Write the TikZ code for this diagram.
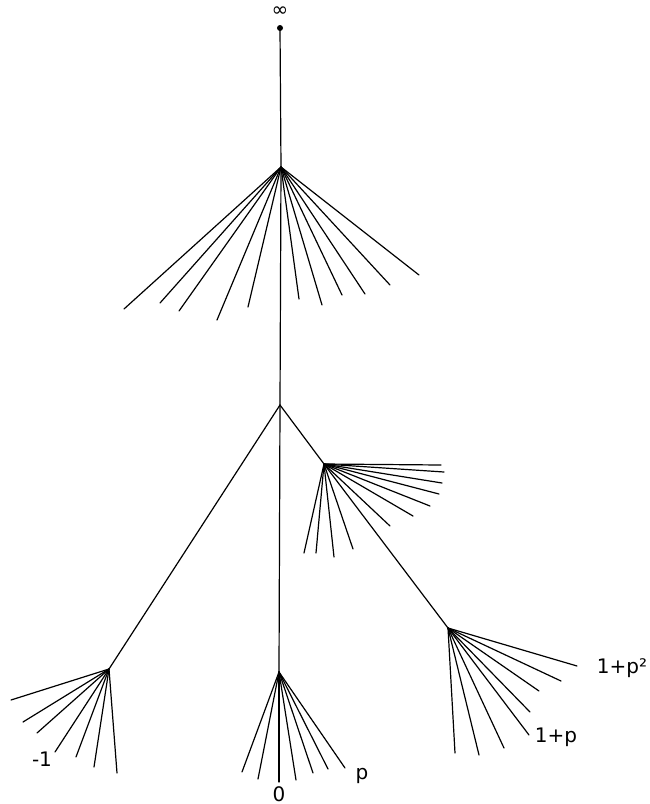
\documentclass[tikz,border=0pt]{standalone}
\usepackage{fontspec}
\setmainfont{DejaVu Sans}
\begin{document}
\begin{tikzpicture}[x=0.5pt, y=-0.5pt, line cap=round, line join=round, line width=0.6pt,
  vertex/.style={coordinate},
  lbl/.style={inner sep=0pt, font=\fontsize{10}{12}\selectfont}]
  \useasboundingbox (0,0) rectangle (649,804);

  % --- vertices of the tree ---
  \node[vertex] (inf)  at (280,28)  {};
  \node[vertex] (vtop) at (281,167) {};
  \node[vertex] (vmid) at (280,405) {};
  \node[vertex] (vsub) at (324,464) {};
  \node[vertex] (vl)   at (109,669) {};
  \node[vertex] (vc)   at (279,672) {};
  \node[vertex] (vr)   at (448,628) {};

  % --- edges ---
  \fill (inf) circle (1.5pt);
  \draw (inf) -- (vtop) -- (vmid);
  \draw (vmid) -- (vl);
  \draw (vmid) -- (vc);
  \draw (vmid) -- (vsub) -- (vr);

  % --- fans ---
  \foreach \x/\y [count=\i] in {124/309,160/303,179/311,217/320,248/307,299/299,
      322/305,342/295,365/294,390/285,419/275}
    {\coordinate (t\i) at (\x,\y); \draw (vtop) -- (t\i);}
  \foreach \x/\y [count=\i] in {441/465,444/472,442/483,439/494,430/506,413/516,
      390/526,353/549,334/557,316/553,304/553}
    {\coordinate (s\i) at (\x,\y); \draw (vsub) -- (s\i);}
  \foreach \x/\y [count=\i] in {11/700,23/722,37/733,55/752,76/757,94/767,117/773}
    {\coordinate (l\i) at (\x,\y); \draw (vl) -- (l\i);}
  \foreach \x/\y [count=\i] in {242/772,258/779,279/782,296/780,313/773,328/769,345/768}
    {\coordinate (c\i) at (\x,\y); \draw (vc) -- (c\i);}
  \foreach \x/\y [count=\i] in {577/666,561/681,539/691,530/712,529/735,504/748,
      479/755,455/753}
    {\coordinate (r\i) at (\x,\y); \draw (vr) -- (r\i);}

  % --- labels ---
  \node[lbl] (linf) at (280,12)  {∞};
  \node[lbl] (lm1)  at (42,759)  {-1};
  \node[lbl] (l0)   at (279,794) {0};
  \node[lbl] (lp)   at (362,776) {p};
  \node[lbl] (l1p)  at (556,737) {1+p};
  \node[lbl] (l1pp) at (622,668) {1+p²};
\end{tikzpicture}
\end{document}
